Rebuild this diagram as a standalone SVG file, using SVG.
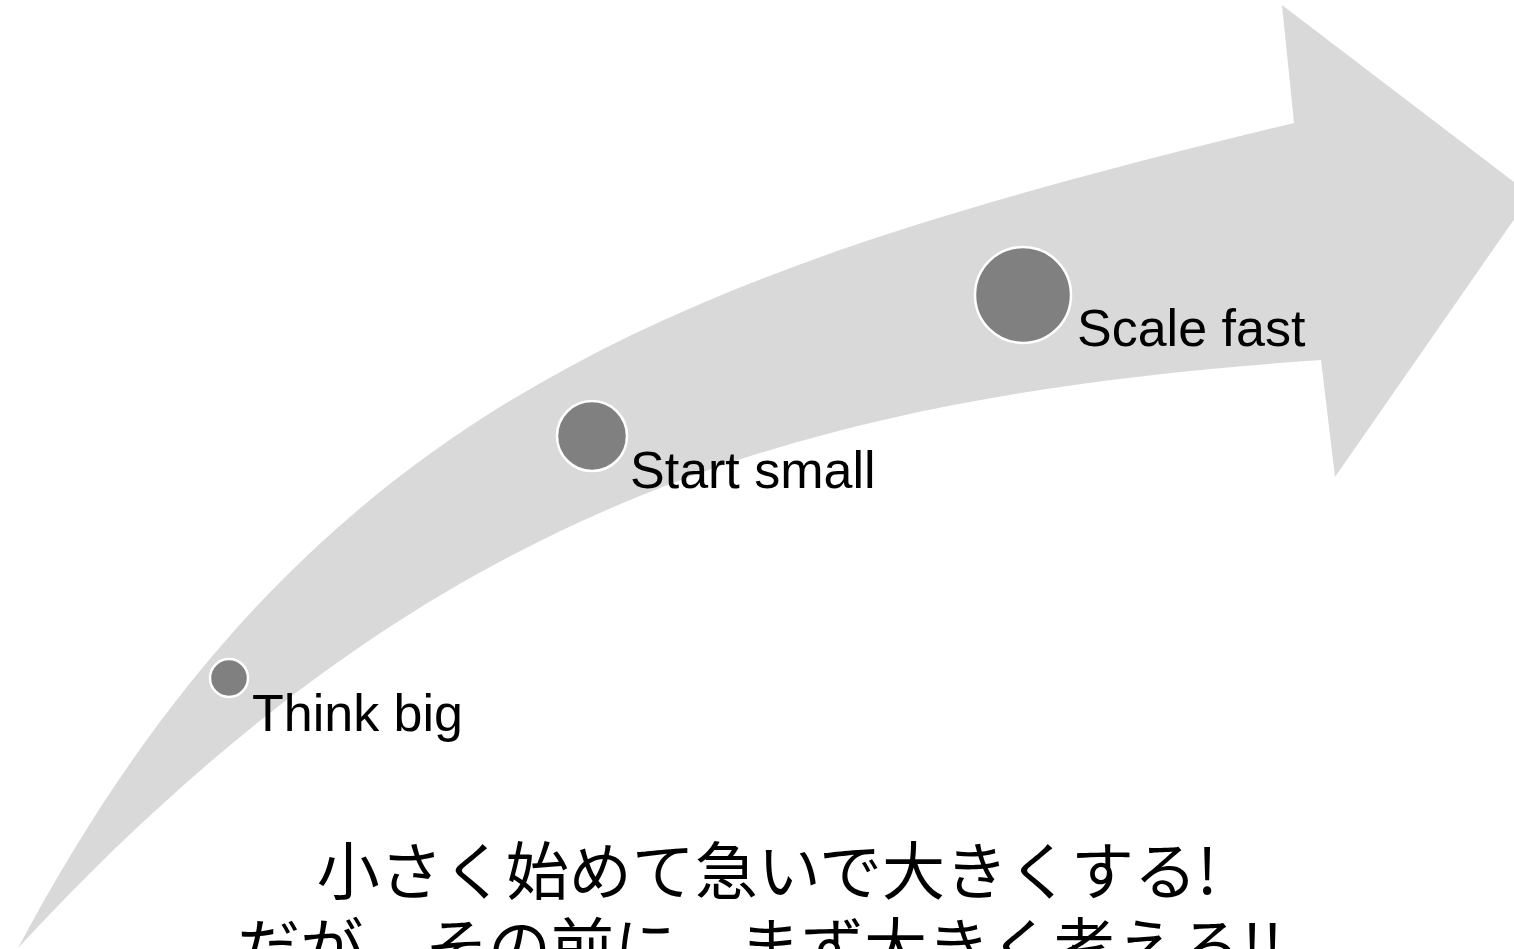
<svg xmlns="http://www.w3.org/2000/svg" width="1514" height="949" viewBox="0 0 1514 949">
<style>
.arrow{fill:#d9d9d9;stroke:none}
.dot{fill:#808080;stroke:#ffffff;stroke-width:2.5}
.lbl{font-family:"Liberation Sans","Noto Sans CJK JP",sans-serif;font-size:52px;fill:#000000}
.jp{font-family:"Noto Sans CJK JP",sans-serif;font-size:63px;fill:#000000;text-anchor:middle}
</style>
<rect width="1514" height="949" fill="#ffffff"/>
<g id="arrow">
<path class="arrow" d="M18,948 C310,400 680,272 1294,123 L1282,5 L1531,195 L1335,477 L1321,360 C800,396 430,503 18,948 Z"/>
</g>
<g id="node-think-big">
<circle class="dot" cx="229" cy="678" r="19"/>
<text class="lbl" x="252" y="731">Think big</text>
</g>
<g id="node-start-small">
<circle class="dot" cx="592" cy="436" r="35"/>
<text class="lbl" x="630" y="488">Start small</text>
</g>
<g id="node-scale-fast">
<circle class="dot" cx="1023" cy="295" r="48"/>
<text class="lbl" x="1077" y="346">Scale fast</text>
</g>
<g id="caption">
<text class="jp" x="767" y="894">小さく始めて急いで大きくする!</text>
<text class="jp" x="760" y="970">だが、その前に、まず大きく考えろ!!</text>
</g>
</svg>
